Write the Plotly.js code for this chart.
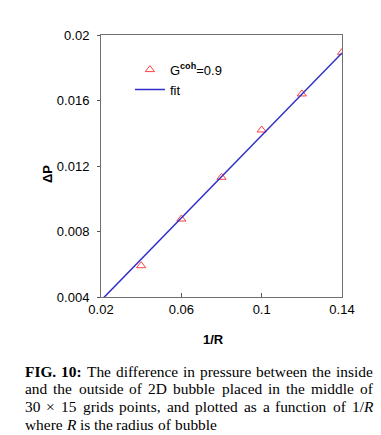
<!DOCTYPE html>
<html><head><meta charset="utf-8">
<script src="https://cdn.plot.ly/plotly-3.0.1.min.js"></script>
<style>html,body{margin:0;padding:0;background:#fff;}#chart{width:381px;height:435px;}</style>
</head><body><div id="chart"></div>
<script>
const invR = [0.04, 0.06, 0.08, 0.10, 0.12, 0.14];
const deltaP = [0.00591, 0.00876, 0.01131, 0.0142, 0.0164, 0.01894];
const fitX = [0.02, 0.14];
const fitY = [0.00379, 0.0189];
const xTicks = [0.02, 0.06, 0.1, 0.14];
const xTickText = ['0.02', '0.06', '0.1', '0.14'];
const yTicks = [0.004, 0.008, 0.012, 0.016, 0.02];
const yTickText = ['0.004', '0.008', '0.012', '0.016', '0.02'];
// caption: each line is a list of words, each word a list of [text, style] parts
const captionLines = [
  [[['FIG.', 'b']], [['10:', 'b']], [['The', '']], [['difference', '']], [['in', '']], [['pressure', '']], [['between', '']], [['the', '']], [['inside', '']]],
  [[['and', '']], [['the', '']], [['outside', '']], [['of', '']], [['2D', '']], [['bubble', '']], [['placed', '']], [['in', '']], [['the', '']], [['middle', '']], [['of', '']]],
  [[['30', '']], [['×', '']], [['15', '']], [['grids', '']], [['points,', '']], [['and', '']], [['plotted', '']], [['as', '']], [['a', '']], [['function', '']], [['of', '']], [['1/', ''], ['R', 'i']]],
  [[['where', '']], [['R', 'i']], [['is', '']], [['the', '']], [['radius', '']], [['of', '']], [['bubble', '']]]
];

const traces = [
  {x: invR, y: deltaP, type: 'scatter', mode: 'markers', name: 'G<sup><b>coh</b></sup>=0.9',
   marker: {symbol: 'triangle-up-open', size: 8, color: '#ff4040', line: {width: 1, color: '#ff4040'}}},
  {x: fitX, y: fitY, type: 'scatter', mode: 'lines', name: 'fit',
   line: {color: '#3030c8', width: 1.5}}
];

const W = 381, H = 435, L = 101, R = 39, T = 35, B = 138;
const pw = W - L - R, ph = H - T - B;
const px = v => (v - L) / pw;
const py = v => (H - B - v) / ph;

const annotations = [
  {text: '<b>ΔP</b>', xref: 'paper', yref: 'paper', x: px(47), y: py(174), textangle: -90, showarrow: false,
   font: {family: 'Liberation Sans, Arial', size: 13, color: '#000'}, xanchor: 'center', yanchor: 'middle'},
  {text: '<b>1/R</b>', xref: 'paper', yref: 'paper', x: px(213), y: py(340), showarrow: false,
   font: {family: 'Liberation Sans, Arial', size: 13, color: '#000'}, xanchor: 'center', yanchor: 'middle'}
];

const capFont = 15.4, capFam = 'Liberation Serif';
const capLeft = 24, capRight = 372;
const capY = [371.5, 388.5, 406.5, 424.5];
const ctx = document.createElement('canvas').getContext('2d');
function partW(t, s) {
  ctx.font = (s === 'b' ? 'bold ' : '') + (s === 'i' ? 'italic ' : '') + capFont + 'px "' + capFam + '"';
  return ctx.measureText(t).width;
}
function partHtml(t, s) { return s === 'b' ? '<b>' + t + '</b>' : (s === 'i' ? '<i>' + t + '</i>' : t); }
captionLines.forEach((words, li) => {
  const widths = words.map(w => w.reduce((a, p) => a + partW(p[0], p[1]), 0));
  const total = widths.reduce((a, b) => a + b, 0);
  const last = li === captionLines.length - 1;
  const gap = last ? partW(' ', '') : (capRight - capLeft - total) / (words.length - 1);
  let xx = capLeft;
  words.forEach((w, wi) => {
    annotations.push({text: w.map(p => partHtml(p[0], p[1])).join(''), xref: 'paper', yref: 'paper',
      x: px(xx - 1), y: py(capY[li]), xanchor: 'left', yanchor: 'middle', showarrow: false, align: 'left',
      font: {family: 'Liberation Serif, Times New Roman', size: capFont, color: '#000'}});
    xx += widths[wi] + gap;
  });
});

const layout = {
  width: W, height: H,
  margin: {l: L, r: R, t: T, b: B},
  paper_bgcolor: '#fff', plot_bgcolor: '#fff',
  font: {family: 'Liberation Sans, Arial', size: 12, color: '#000'},
  showlegend: true,
  legend: {x: 0.12, y: 0.925, xanchor: 'left', yanchor: 'top', bgcolor: 'rgba(0,0,0,0)',
    font: {family: 'Liberation Sans, Arial', size: 13, color: '#000'}, tracegroupgap: 0},
  xaxis: {range: [0.02, 0.14], tickvals: xTicks, ticktext: xTickText, ticks: 'inside', ticklen: 4,
    tickcolor: '#555', showline: true, linecolor: '#707070', linewidth: 1, mirror: true,
    showgrid: false, zeroline: false, tickfont: {size: 13}},
  yaxis: {range: [0.004, 0.02], tickvals: yTicks, ticktext: yTickText, ticks: 'outside', ticklen: 3,
    ticklabelstandoff: 5,
    tickcolor: '#555', showline: true, linecolor: '#707070', linewidth: 1, mirror: true,
    showgrid: false, zeroline: false, tickfont: {size: 13}},
  annotations: annotations
};
Plotly.newPlot('chart', traces, layout, {displayModeBar: false, staticPlot: true});
</script></body></html>
